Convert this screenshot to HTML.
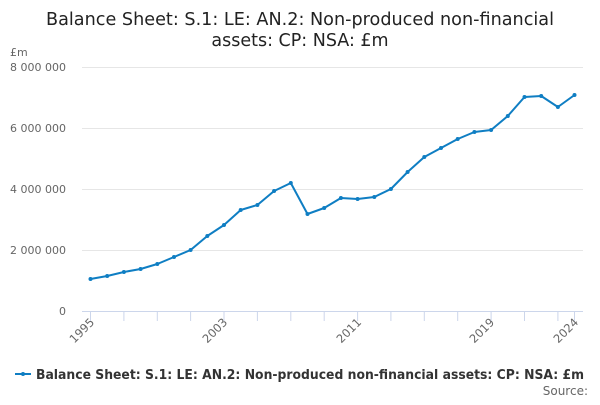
<!DOCTYPE html>
<html><head><meta charset="utf-8"><style>
body{margin:0;background:#fff;width:600px;height:400px;overflow:hidden}
svg{font-family:"DejaVu Sans","Liberation Sans",sans-serif}
</style></head><body>
<svg width="600" height="400" xmlns="http://www.w3.org/2000/svg">
<text x="300" y="25" text-anchor="middle" font-size="17.5" fill="#222" textLength="508" lengthAdjust="spacingAndGlyphs">Balance Sheet: S.1: LE: AN.2: Non-produced non-financial</text>
<text x="300" y="46" text-anchor="middle" font-size="17.5" fill="#222">assets: CP: NSA: £m</text>
<text x="10" y="56" font-size="11" fill="#666">£m</text>
<g stroke="#e6e6e6" stroke-width="1">
<line x1="82" y1="67.5" x2="583" y2="67.5"/>
<line x1="82" y1="128.5" x2="583" y2="128.5"/>
<line x1="82" y1="189.5" x2="583" y2="189.5"/>
<line x1="82" y1="250.5" x2="583" y2="250.5"/>
</g>
<line x1="82" y1="311.5" x2="583" y2="311.5" stroke="#ccd6eb"/>
<g font-size="11" fill="#666" text-anchor="end">
<text x="66" y="71">8 000 000</text>
<text x="66" y="132">6 000 000</text>
<text x="66" y="193">4 000 000</text>
<text x="66" y="254">2 000 000</text>
<text x="66" y="315">0</text>
</g>
<g font-size="11.5" fill="#666" text-anchor="end">
<text transform="translate(95,323) rotate(-45)">1995</text>
<text transform="translate(228,323) rotate(-45)">2003</text>
<text transform="translate(362,323) rotate(-45)">2011</text>
<text transform="translate(495,323) rotate(-45)">2019</text>
<text transform="translate(579,323) rotate(-45)">2024</text>
</g>
<g stroke="#ccd6eb">
<line x1="90.5" y1="311" x2="90.5" y2="321"/><line x1="123.9" y1="311" x2="123.9" y2="321"/><line x1="157.3" y1="311" x2="157.3" y2="321"/><line x1="190.6" y1="311" x2="190.6" y2="321"/><line x1="224" y1="311" x2="224" y2="321"/><line x1="257.4" y1="311" x2="257.4" y2="321"/><line x1="290.8" y1="311" x2="290.8" y2="321"/><line x1="324.2" y1="311" x2="324.2" y2="321"/><line x1="357.6" y1="311" x2="357.6" y2="321"/><line x1="390.9" y1="311" x2="390.9" y2="321"/><line x1="424.3" y1="311" x2="424.3" y2="321"/><line x1="457.7" y1="311" x2="457.7" y2="321"/><line x1="491.1" y1="311" x2="491.1" y2="321"/><line x1="524.5" y1="311" x2="524.5" y2="321"/><line x1="557.9" y1="311" x2="557.9" y2="321"/><line x1="574.5" y1="311" x2="574.5" y2="321"/>
</g>
<polyline fill="none" stroke="#0f7ec3" stroke-width="2" stroke-linejoin="round" points="90.5,279 107.2,276 123.9,272 140.6,269 157.3,264 174,257 190.6,250 207.3,236 224,225 240.7,210 257.4,205 274.1,191 290.8,183 307.5,214 324.2,208 340.9,198 357.6,199 374.3,197 390.9,189 407.6,172 424.3,157 441,148 457.7,139 474.4,132 491.1,130 507.8,116 524.5,97 541.2,96 557.9,107 574.5,95"/>
<g fill="#0f7ec3">
<circle cx="90.5" cy="279" r="2"/><circle cx="107.2" cy="276" r="2"/><circle cx="123.9" cy="272" r="2"/><circle cx="140.6" cy="269" r="2"/><circle cx="157.3" cy="264" r="2"/><circle cx="174" cy="257" r="2"/><circle cx="190.6" cy="250" r="2"/><circle cx="207.3" cy="236" r="2"/><circle cx="224" cy="225" r="2"/><circle cx="240.7" cy="210" r="2"/><circle cx="257.4" cy="205" r="2"/><circle cx="274.1" cy="191" r="2"/><circle cx="290.8" cy="183" r="2"/><circle cx="307.5" cy="214" r="2"/><circle cx="324.2" cy="208" r="2"/><circle cx="340.9" cy="198" r="2"/><circle cx="357.6" cy="199" r="2"/><circle cx="374.3" cy="197" r="2"/><circle cx="390.9" cy="189" r="2"/><circle cx="407.6" cy="172" r="2"/><circle cx="424.3" cy="157" r="2"/><circle cx="441" cy="148" r="2"/><circle cx="457.7" cy="139" r="2"/><circle cx="474.4" cy="132" r="2"/><circle cx="491.1" cy="130" r="2"/><circle cx="507.8" cy="116" r="2"/><circle cx="524.5" cy="97" r="2"/><circle cx="541.2" cy="96" r="2"/><circle cx="557.9" cy="107" r="2"/><circle cx="574.5" cy="95" r="2"/>
</g>
<line x1="15" y1="374" x2="31" y2="374" stroke="#0f7ec3" stroke-width="2"/>
<circle cx="23" cy="374" r="2" fill="#0f7ec3"/>
<text x="36" y="379" font-size="13" font-weight="bold" fill="#333" textLength="548" lengthAdjust="spacingAndGlyphs">Balance Sheet: S.1: LE: AN.2: Non-produced non-financial assets: CP: NSA: £m</text>
<text x="588" y="395" text-anchor="end" font-size="12" fill="#666">Source:</text>
</svg>
</body></html>
